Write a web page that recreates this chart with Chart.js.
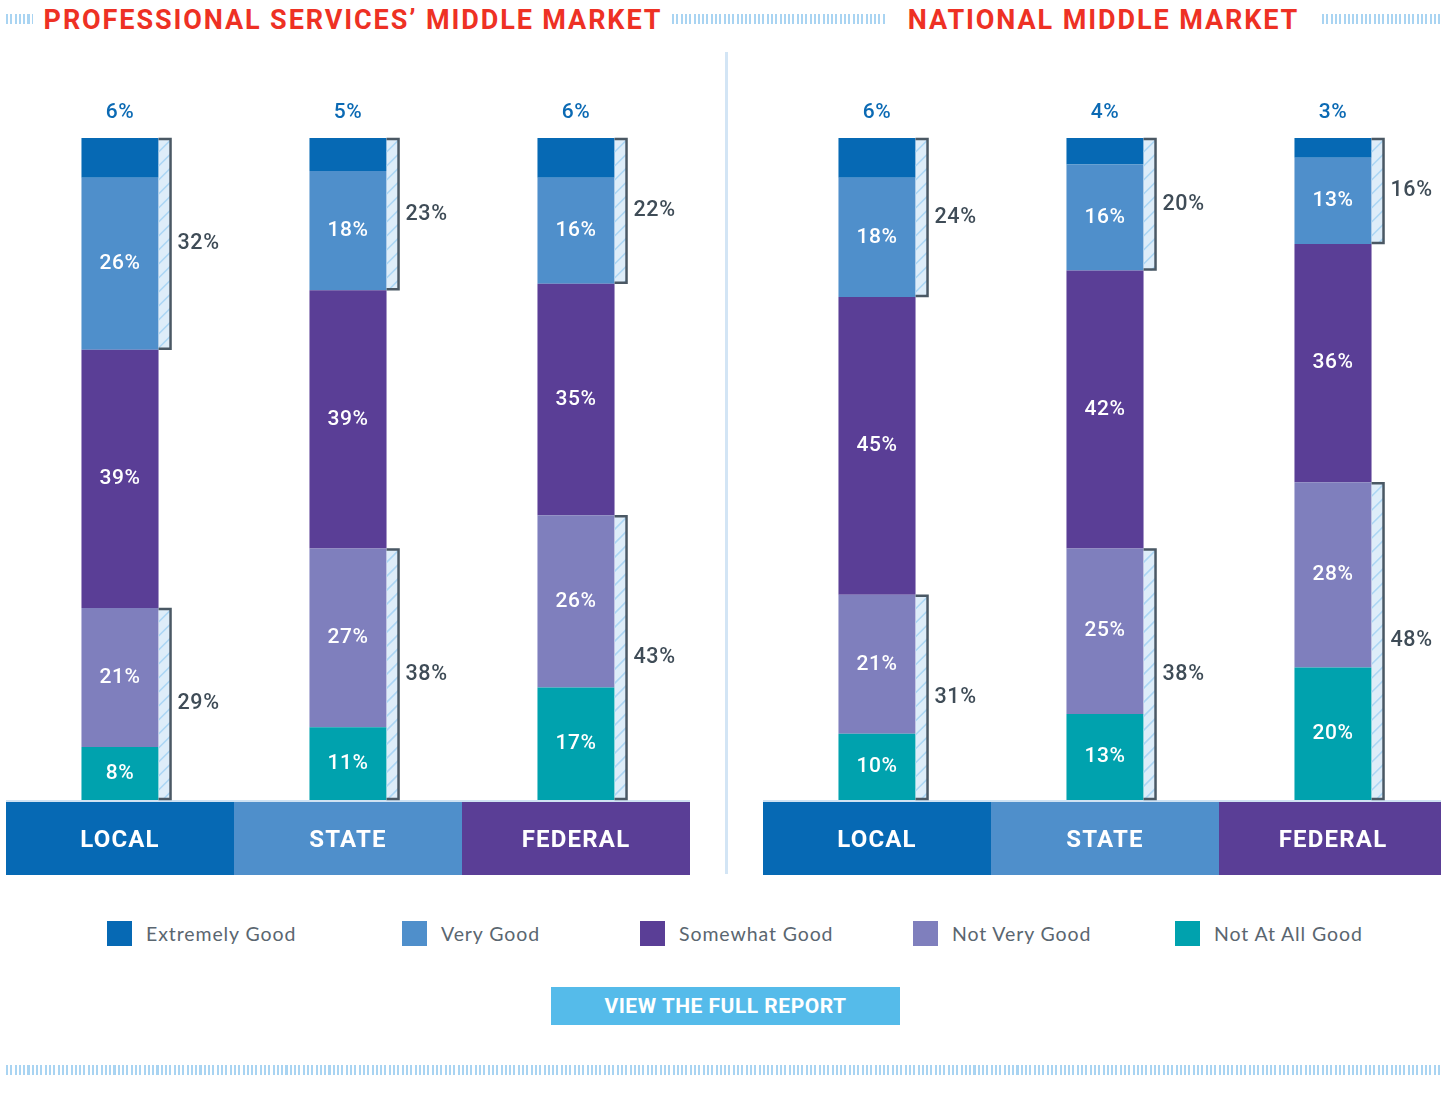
<!DOCTYPE html>
<html>
<head>
<meta charset="utf-8">
<script src="https://cdn.jsdelivr.net/npm/chart.js@4"></script>
<style>
  html,body{margin:0;padding:0;background:#fff;}
  body{width:1441px;height:1099px;position:relative;overflow:hidden;font-family:"Roboto",sans-serif;}
  .stripe{position:absolute;height:10px;background:repeating-linear-gradient(to right,#a9d4f2 0 2px,transparent 2px 4.3px);}
  .title{position:absolute;top:3px;height:34px;line-height:34px;color:#ee3124;font-weight:700;font-size:27px;letter-spacing:1.9px;white-space:nowrap;}
  .divider{position:absolute;left:725px;top:52px;width:3px;height:822px;background:#d3e5f5;}
  .panel{position:absolute;top:0;}
  .leg{position:absolute;top:921px;height:25px;display:flex;align-items:center;font-family:"Lato",sans-serif;font-size:19.5px;color:#5a6670;letter-spacing:0.9px;white-space:nowrap;}
  .leg span.sw{display:inline-block;width:25px;height:25px;margin-right:14px;}
  .btn{position:absolute;left:551px;top:987px;width:349px;height:38px;background:#55bbea;color:#fff;font-weight:700;font-size:21px;line-height:39px;text-align:center;letter-spacing:0.5px;}
</style>
</head>
<body>
<div class="stripe" style="left:6px;top:14px;width:27px"></div>
<div class="title" id="t1" style="left:40px;width:626px;text-align:center"></div>
<div class="stripe" style="left:672px;top:14px;width:213px"></div>
<div class="title" id="t2" style="left:903px;width:401px;text-align:center"></div>
<div class="stripe" style="left:1322px;top:14px;width:119px"></div>
<div class="divider"></div>
<div class="panel" style="left:6px"><canvas id="c1" width="684" height="880"></canvas></div>
<div class="panel" style="left:763px"><canvas id="c2" width="684" height="880"></canvas></div>
<div id="legend"></div>
<div class="btn">VIEW THE FULL REPORT</div>
<div class="stripe" style="left:6px;top:1065px;width:1435px"></div>
<script>
// ---------- DATA ----------
const panelTitles = ["PROFESSIONAL SERVICES\u2019 MIDDLE MARKET", "NATIONAL MIDDLE MARKET"];
const categories = ["LOCAL", "STATE", "FEDERAL"];
const seriesNames = ["Extremely Good", "Very Good", "Somewhat Good", "Not Very Good", "Not At All Good"];
const seriesColors = ["#0669b4", "#4f8fcb", "#5a3e96", "#7f7fbd", "#00a2ae"];
const bandColors = ["#0669b4", "#4f8fcb", "#5a3e96"];

// Professional services' middle market
const psExtremelyGood = [6, 5, 6];
const psVeryGood      = [26, 18, 16];
const psSomewhatGood  = [39, 39, 35];
const psNotVeryGood   = [21, 27, 26];
const psNotAtAllGood  = [8, 11, 17];

// National middle market
const nmExtremelyGood = [6, 4, 3];
const nmVeryGood      = [18, 16, 13];
const nmSomewhatGood  = [45, 42, 36];
const nmNotVeryGood   = [21, 25, 28];
const nmNotAtAllGood  = [10, 13, 20];

// ---------- TEXT ----------
document.getElementById('t1').textContent = panelTitles[0];
document.getElementById('t2').textContent = panelTitles[1];
const legendX = [107, 402, 640, 913, 1175];
const legEl = document.getElementById('legend');
seriesNames.forEach((n, i) => {
  const d = document.createElement('div');
  d.className = 'leg';
  d.style.left = legendX[i] + 'px';
  d.innerHTML = '<span class="sw" style="background:' + seriesColors[i] + '"></span>' + n;
  legEl.appendChild(d);
});

// ---------- PLUGIN ----------
function setLS(ctx, v) { if (ctx.letterSpacing !== undefined) ctx.letterSpacing = v; }
function hatchRect(ctx, x, y, w, h) {
  ctx.save();
  ctx.beginPath(); ctx.rect(x, y, w, h); ctx.clip();
  ctx.fillStyle = '#deedf9';
  ctx.fillRect(x, y, w, h);
  ctx.strokeStyle = '#acd6f4';
  ctx.lineWidth = 1.6;
  for (let yy = y - w; yy < y + h + w; yy += 14) {
    ctx.beginPath();
    ctx.moveTo(x, yy + w);
    ctx.lineTo(x + w, yy);
    ctx.stroke();
  }
  ctx.restore();
}
function bracket(ctx, left, top, bottom, label) {
  const w = 12;
  hatchRect(ctx, left, top, w, bottom - top);
  ctx.save();
  ctx.strokeStyle = '#4a5864';
  ctx.lineWidth = 2.5;
  ctx.beginPath();
  ctx.moveTo(left, top + 1);
  ctx.lineTo(left + w, top + 1);
  ctx.lineTo(left + w, bottom - 1);
  ctx.lineTo(left, bottom - 1);
  ctx.stroke();
  ctx.fillStyle = '#3f4c57';
  ctx.font = '500 21.5px Roboto';
  setLS(ctx, '0.6px');
  ctx.textAlign = 'left';
  ctx.textBaseline = 'middle';
  ctx.fillText(label, left + w + 7, (top + bottom) / 2);
  ctx.restore();
}
const overlay = {
  id: 'overlay',
  afterDatasetsDraw(chart) {
    const ctx = chart.ctx;
    const area = chart.chartArea;
    const xs = chart.scales.x;
    const catW = xs.getPixelForValue(1) - xs.getPixelForValue(0);
    const ds = chart.data.datasets;
    // band
    ctx.save();
    ctx.fillStyle = '#cfe2f3';
    ctx.fillRect(xs.getPixelForValue(0) - catW / 2, area.bottom, catW * categories.length, 2);
    categories.forEach((c, i) => {
      const cx = xs.getPixelForValue(i);
      ctx.fillStyle = bandColors[i];
      ctx.fillRect(cx - catW / 2, area.bottom + 2, catW, 73);
      ctx.fillStyle = '#fff';
      ctx.font = 'bold 24px Roboto';
      ctx.textAlign = 'center';
      ctx.textBaseline = 'middle';
      setLS(ctx, '1.2px');
      ctx.fillText(c, cx, area.bottom + 41);
      setLS(ctx, '0px');
    });
    ctx.restore();
    // labels + brackets
    categories.forEach((c, i) => {
      const bars = ds.map((d, k) => chart.getDatasetMeta(k).data[i]);
      // dataset order: 0 NotAtAll,1 NotVery,2 Somewhat,3 Very,4 Extremely
      ctx.save();
      ctx.textAlign = 'center';
      ctx.textBaseline = 'middle';
      ctx.font = '500 21px Roboto';
      setLS(ctx, '0.6px');
      bars.forEach((b, k) => {
        const v = ds[k].data[i];
        if (k === 4) {
          ctx.fillStyle = '#0b6ab4';
          ctx.fillText(v + '%', b.x, b.y - 25);
        } else {
          ctx.fillStyle = '#ffffff';
          ctx.fillText(v + '%', b.x, (b.y + b.base) / 2);
        }
      });
      ctx.restore();
      const right = bars[0].x + bars[0].width / 2;
      const topSum = ds[4].data[i] + ds[3].data[i];
      const botSum = ds[1].data[i] + ds[0].data[i];
      bracket(ctx, right, bars[4].y, bars[3].base, topSum + '%');
      bracket(ctx, right, bars[1].y, bars[0].base, botSum + '%');
    });
  }
};

function makeChart(id, ext, very, some, notVery, notAtAll) {
  const vals = [notAtAll, notVery, some, very, ext];
  const cols = [seriesColors[4], seriesColors[3], seriesColors[2], seriesColors[1], seriesColors[0]];
  const names = [seriesNames[4], seriesNames[3], seriesNames[2], seriesNames[1], seriesNames[0]];
  return new Chart(document.getElementById(id), {
    type: 'bar',
    data: {
      labels: categories,
      datasets: vals.map((v, k) => ({
        label: names[k], data: v, backgroundColor: cols[k], borderWidth: 0,
        barPercentage: 0.338, categoryPercentage: 1
      }))
    },
    options: {
      responsive: false, animation: false, devicePixelRatio: 1,
      layout: { padding: { top: 138, bottom: 80, left: 0, right: 0 } },
      plugins: { legend: { display: false }, tooltip: { enabled: false } },
      scales: {
        x: { stacked: true, display: false },
        y: { stacked: true, display: false, min: 0, max: 100 }
      }
    },
    plugins: [overlay]
  });
}
makeChart('c1', psExtremelyGood, psVeryGood, psSomewhatGood, psNotVeryGood, psNotAtAllGood);
makeChart('c2', nmExtremelyGood, nmVeryGood, nmSomewhatGood, nmNotVeryGood, nmNotAtAllGood);
</script>
</body>
</html>
